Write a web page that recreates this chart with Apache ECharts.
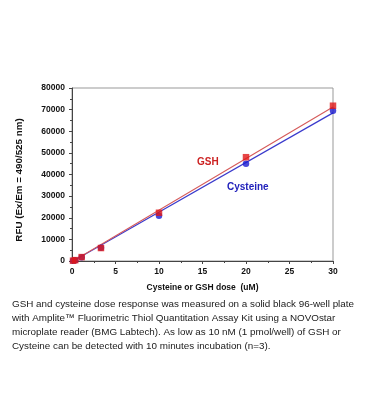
<!DOCTYPE html>
<html><head><meta charset="utf-8">
<script src="https://cdn.jsdelivr.net/npm/echarts@6/dist/echarts.min.js"></script>
<style>html,body{margin:0;padding:0;background:#fff}#c{width:370px;height:420px}</style>
</head><body><div id="c"></div>
<script>
const doseX = [0.12, 0.37, 1.11, 3.33, 10, 20, 30];
const gshValues = [150, 400, 1800, 6000, 22300, 48000, 71800];
const cysValues = [100, 300, 1700, 6100, 20900, 45000, 69500];
const fitX = [0, 30];
const gshFit = [-300, 71200];
const cysFit = [-300, 68500];
const xTicks = [0, 5, 10, 15, 20, 25, 30];
const yTicks = [0, 10000, 20000, 30000, 40000, 50000, 60000, 70000, 80000];
const yTitle = 'RFU (Ex/Em = 490/525 nm)';
const xTitle = 'Cysteine or GSH dose  (uM)';
const captionLines = [
  'GSH and cysteine dose response was measured on a solid black 96-well plate',
  'with Amplite\u2122 Fluorimetric Thiol Quantitation Assay Kit using a NOVOstar',
  'microplate reader (BMG Labtech). As low as 10 nM (1 pmol/well) of GSH or',
  'Cysteine can be detected with 10 minutes incubation (n=3).'
];

const red = '#e01818', blue = '#1a1ad0';
const chart = echarts.init(document.getElementById('c'));
const axisFont = {fontFamily: 'Liberation Sans, Arial, sans-serif', fontWeight: 'bold', fontSize: 8.5, color: '#111'};
chart.setOption({
  animation: false,
  grid: {left: 72, right: 37, top: 88, bottom: 159, show: true, borderColor: '#999', borderWidth: 1},
  xAxis: {
    type: 'value', min: xTicks[0], max: xTicks[xTicks.length - 1], interval: 5,
    axisLine: {show: true, lineStyle: {color: '#444'}},
    axisTick: {show: true, length: 3, lineStyle: {color: '#444'}},
    minorTick: {show: true, splitNumber: 2, length: 2, lineStyle: {color: '#444'}},
    splitLine: {show: false},
    axisLabel: Object.assign({margin: 6, formatter: v => String(v)}, axisFont),
    name: xTitle, nameLocation: 'middle', nameGap: 22,
    nameTextStyle: axisFont
  },
  yAxis: {
    type: 'value', min: yTicks[0], max: yTicks[yTicks.length - 1], interval: 10000,
    axisLine: {show: true, lineStyle: {color: '#444'}},
    axisTick: {show: true, length: 3, lineStyle: {color: '#444'}},
    minorTick: {show: true, splitNumber: 2, length: 2, lineStyle: {color: '#444'}},
    splitLine: {show: false},
    axisLabel: Object.assign({margin: 7, formatter: v => String(v)}, axisFont)
  },
  series: [
    {type: 'line', data: fitX.map((x, i) => [x, cysFit[i]]), showSymbol: false, lineStyle: {color: '#3a3acc', width: 1.2}, z: 2, clip: true},
    {type: 'line', data: fitX.map((x, i) => [x, gshFit[i]]), showSymbol: false, lineStyle: {color: '#d55a5a', width: 1.2}, z: 2, clip: true},
    {type: 'scatter', data: doseX.map((x, i) => [x, cysValues[i]]), symbol: 'circle', symbolSize: 6.5, itemStyle: {color: blue}, z: 3, clip: true},
    {type: 'scatter', data: doseX.map((x, i) => [x, gshValues[i]]), symbol: 'rect', symbolSize: 6.5, itemStyle: {color: red}, z: 4, clip: true}
  ],
  graphic: [
    {type: 'text', x: 19, y: 180, rotation: Math.PI / 2,
     style: {text: yTitle, fill: '#111', font: 'bold 9.8px Liberation Sans, Arial, sans-serif', align: 'center', verticalAlign: 'middle'}},
    {type: 'text', left: 197, top: 157, style: {text: 'GSH', fill: '#cc2222', font: 'bold 10px Liberation Sans, Arial, sans-serif'}},
    {type: 'text', left: 227, top: 182, style: {text: 'Cysteine', fill: '#2222bb', font: 'bold 10px Liberation Sans, Arial, sans-serif'}}
  ].concat(captionLines.map((t, i) => ({
    type: 'text', left: 12, top: 299 + i * 14,
    style: {text: t, fill: '#1a1a1a', font: '9.85px Liberation Sans, Arial, sans-serif'}
  })))
});
</script></body></html>
